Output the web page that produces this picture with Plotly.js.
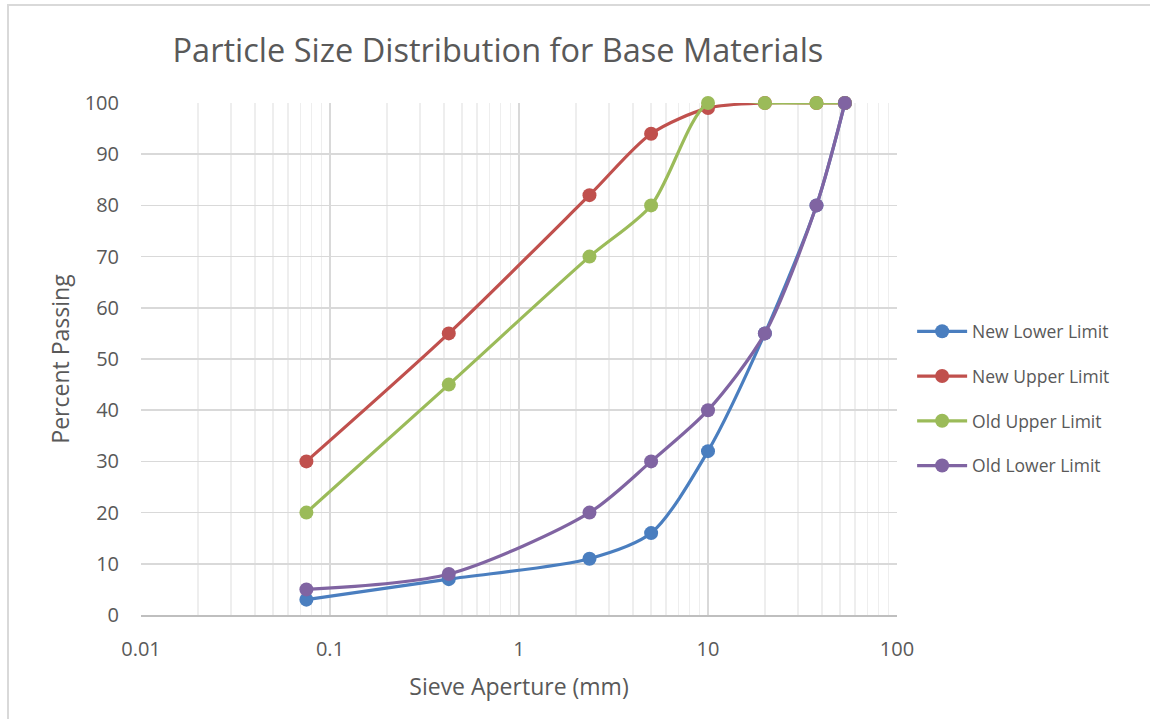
<!DOCTYPE html>
<html>
<head>
<meta charset="utf-8">
<script src="https://cdn.plot.ly/plotly-3.0.1.min.js"></script>
<style>
html,body{margin:0;padding:0;background:#fff;}
#frame{position:absolute;left:7px;top:4px;width:1143px;height:715px;border-left:2px solid #d9d9d9;border-top:2px solid #d9d9d9;box-sizing:border-box;}
#chart{position:absolute;left:0;top:0;width:1150px;height:719px;}
</style>
</head>
<body>
<div id="frame"></div>
<div id="chart"></div>
<script>
const sieveSizes = [0.075, 0.425, 2.36, 5, 10, 20, 37.5, 53];
const newLowerLimit = [3, 7, 11, 16, 32, 55, 80, 100];
const newUpperLimit = [30, 55, 82, 94, 99, 100, 100, 100];
const oldUpperLimit = [20, 45, 70, 80, 100, 100, 100, 100];
const oldLowerLimit = [5, 8, 20, 30, 40, 55, 80, 100];
const seriesNames = ["New Lower Limit", "New Upper Limit", "Old Upper Limit", "Old Lower Limit"];
const seriesColors = ["#4a7ebf", "#c0504d", "#9bbb59", "#8064a2"];
const xTickVals = [0.01, 0.1, 1, 10, 100];
const xTickText = ["0.01", "0.1", "1", "10", "100"];

const seriesData = [newLowerLimit, newUpperLimit, oldUpperLimit, oldLowerLimit];
const traces = seriesData.map((ys, i) => ({
  type: "scatter",
  mode: "lines+markers",
  name: seriesNames[i],
  legendgroup: "g" + i,
  x: sieveSizes,
  y: ys,
  line: {color: seriesColors[i], width: 3.2, shape: "spline", smoothing: 0.8},
  marker: {color: seriesColors[i], size: 14},
  cliponaxis: false
}));

const font = "'Open Sans', sans-serif";
const layout = {
  width: 1150,
  height: 719,
  margin: {l: 141, r: 253, t: 103, b: 104},
  paper_bgcolor: "rgba(0,0,0,0)",
  plot_bgcolor: "#ffffff",
  font: {family: font, color: "#595959", size: 17},
  title: {
    text: "Particle Size Distribution for Base Materials",
    font: {family: font, size: 32.5, color: "#595959"},
    x: 0.433, xanchor: "center", y: 0.929, yanchor: "middle"
  },
  xaxis: {
    type: "log",
    range: [-2, 2],
    tickvals: xTickVals,
    ticktext: xTickText,
    showgrid: true,
    gridcolor: "#d9d9d9",
    gridwidth: 1.5,
    showline: true,
    linecolor: "#bfbfbf",
    linewidth: 1.5,
    zeroline: false,
    ticks: "",
    ticklabelstandoff: 15,
    tickfont: {size: 20, color: "#595959"},
    minor: {dtick: "D1", showgrid: true, gridcolor: "#eeeeee", gridwidth: 1.5},
    title: {text: "Sieve Aperture (mm)", font: {size: 23, color: "#595959"}, standoff: 18}
  },
  yaxis: {
    range: [0, 100],
    dtick: 10,
    showgrid: true,
    gridcolor: "#d9d9d9",
    gridwidth: 1.5,
    zeroline: false,
    showline: false,
    ticks: "",
    ticklabelstandoff: 21,
    tickfont: {size: 20, color: "#595959"},
    title: {text: "Percent Passing", font: {size: 23, color: "#595959"}, standoff: 8}
  },
  legend: {
    x: 1.02, xanchor: "left",
    y: 0.423, yanchor: "middle",
    tracegroupgap: 19,
    font: {size: 17.5, color: "#595959"},
    itemwidth: 50,
    bgcolor: "rgba(0,0,0,0)"
  },
  showlegend: true
};

Plotly.newPlot("chart", traces, layout, {displayModeBar: false, staticPlot: true});
</script>
</body>
</html>
